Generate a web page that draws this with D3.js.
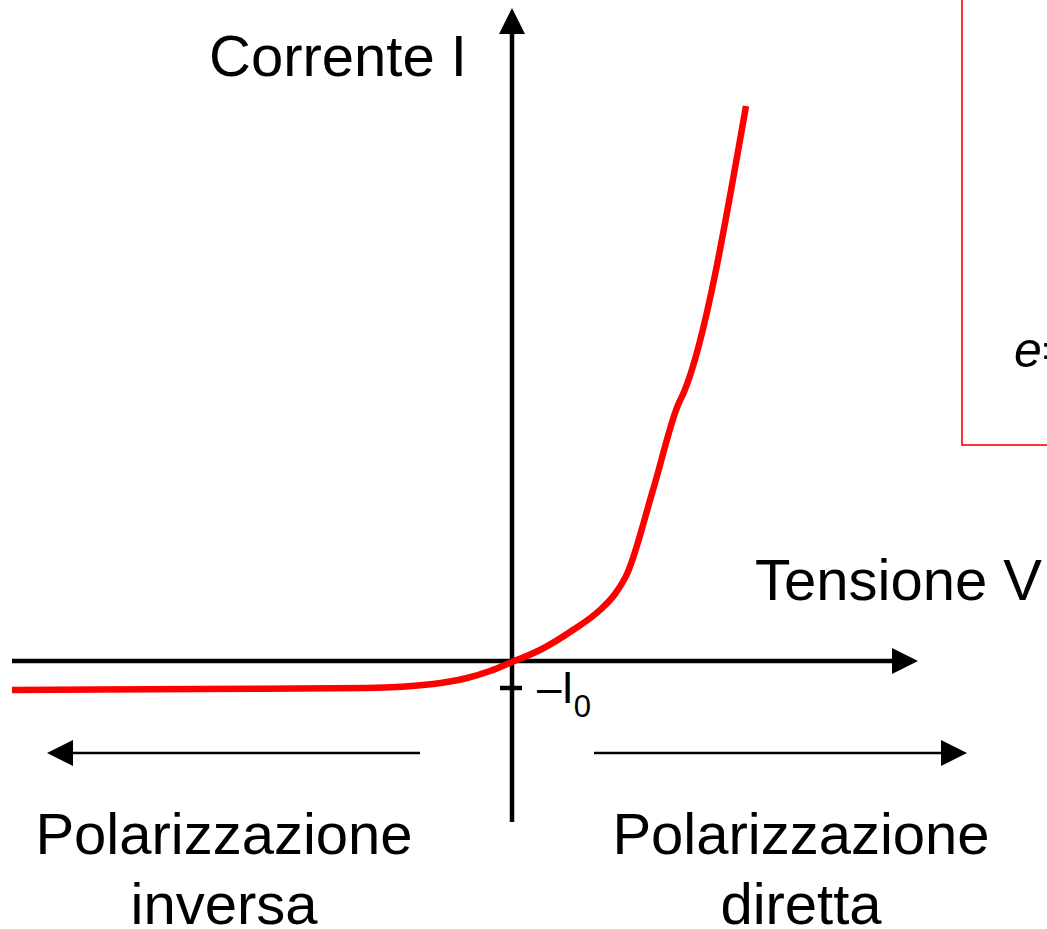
<!DOCTYPE html>
<html>
<head>
<meta charset="utf-8">
<script src="https://cdn.jsdelivr.net/npm/d3@7"></script>
<style>
  html, body { margin: 0; padding: 0; background: #fff; }
  svg { display: block; }
  text { font-family: "Liberation Sans", Arial, sans-serif; fill: #000; }
</style>
</head>
<body>
<svg id="chart" width="1047" height="929"></svg>
<script>
// Diode characteristic: tension V (arbitrary units) vs current I (arbitrary units)
const voltage = [-5.00, -3.12, -1.45, -0.79, -0.45, -0.22, 0.00, 0.28, 0.61, 0.88, 1.03, 1.15, 1.41, 1.66, 1.72, 2.34];
const current = [-0.29, -0.28, -0.27, -0.23, -0.17, -0.10, -0.01, 0.11, 0.31, 0.51, 0.67, 0.87, 1.71, 2.56, 2.69, 5.55];
const saturationCurrent = 0.27;   // I0, marked on the vertical axis as −I0
const xExtent = [-5, 4.06];
const yExtent = [-1.61, 6.53];

const axisLabels = { y: "Corrente I", x: "Tensione V" };
const regionLabels = [["Polarizzazione", "inversa"], ["Polarizzazione", "diretta"]];

const svg = d3.select("#chart");
const x = d3.scaleLinear().domain(xExtent).range([12, 918]);
const y = d3.scaleLinear().domain(yExtent).range([822, 8]);

const FONT = 58;

// Box on the right (partly outside the page)
svg.append("rect")
  .attr("x", 962).attr("y", -10)
  .attr("width", 200).attr("height", 455)
  .attr("fill", "none").attr("stroke", "#ff0000").attr("stroke-width", 1.6);

const eq = svg.append("text")
  .attr("x", 1014).attr("y", 367)
  .style("font-size", "50px");
eq.append("tspan").style("font-style", "italic").text("e");
eq.append("tspan").text("=");

// Axes with arrowheads
const head = 26;
const x0 = x(0), y0 = y(0);
svg.append("line")
  .attr("x1", x(xExtent[0])).attr("x2", x(xExtent[1]) - head + 2)
  .attr("y1", y0).attr("y2", y0)
  .attr("stroke", "#000").attr("stroke-width", 4.5);
svg.append("path")
  .attr("d", `M${x(xExtent[1])},${y0} L${x(xExtent[1]) - head},${y0 - 13} L${x(xExtent[1]) - head},${y0 + 13} Z`)
  .attr("fill", "#000");

svg.append("line")
  .attr("x1", x0).attr("x2", x0)
  .attr("y1", y(yExtent[0])).attr("y2", y(yExtent[1]) + head - 2)
  .attr("stroke", "#000").attr("stroke-width", 4.5);
svg.append("path")
  .attr("d", `M${x0},${y(yExtent[1])} L${x0 - 13},${y(yExtent[1]) + head} L${x0 + 13},${y(yExtent[1]) + head} Z`)
  .attr("fill", "#000");

// Tick for −I0
svg.append("line")
  .attr("x1", x0 - 12).attr("x2", x0 + 10)
  .attr("y1", y(-saturationCurrent)).attr("y2", y(-saturationCurrent))
  .attr("stroke", "#000").attr("stroke-width", 4.5);

const i0 = svg.append("text")
  .attr("x", x0 + 25).attr("y", 703)
  .style("font-size", "44px");
i0.append("tspan").text("–I");
i0.append("tspan").attr("dy", 14).style("font-size", "31px").text("0");

// Characteristic curve
const points = voltage.map((v, i) => [v, current[i]]);
const line = d3.line()
  .x(d => x(d[0]))
  .y(d => y(d[1]))
  .curve(d3.curveMonotoneX);
svg.append("path")
  .datum(points)
  .attr("d", line)
  .attr("fill", "none")
  .attr("stroke", "#ff0000")
  .attr("stroke-width", 6.5)
  .attr("stroke-linejoin", "round");

// Axis titles
svg.append("text").attr("x", 209).attr("y", 76)
  .style("font-size", FONT + "px").text(axisLabels.y);
svg.append("text").attr("x", 755).attr("y", 600)
  .style("font-size", FONT + "px").text(axisLabels.x);

// Polarization direction arrows
const arrowY = 753;
function arrow(from, to) {
  const dir = Math.sign(to - from);
  svg.append("line")
    .attr("x1", from).attr("x2", to - dir * (head - 2))
    .attr("y1", arrowY).attr("y2", arrowY)
    .attr("stroke", "#000").attr("stroke-width", 2.6);
  svg.append("path")
    .attr("d", `M${to},${arrowY} L${to - dir * head},${arrowY - 13} L${to - dir * head},${arrowY + 13} Z`)
    .attr("fill", "#000");
}
arrow(420, 47);
arrow(594, 967);

// Region labels
const regionCenters = [224, 801];
regionLabels.forEach((lines, k) => {
  lines.forEach((t, j) => {
    svg.append("text")
      .attr("x", regionCenters[k]).attr("y", 854 + j * 70)
      .attr("text-anchor", "middle")
      .style("font-size", FONT + "px")
      .text(t);
  });
});
</script>
</body>
</html>
